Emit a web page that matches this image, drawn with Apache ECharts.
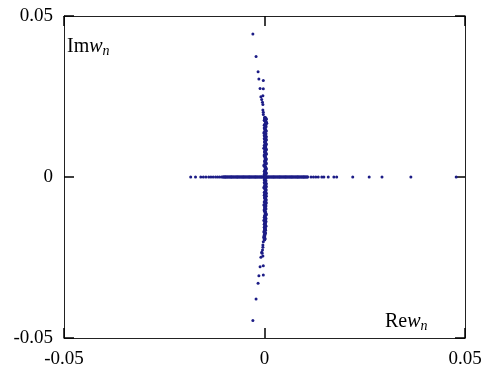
<!DOCTYPE html>
<html>
<head>
<meta charset="utf-8">
<script src="https://cdn.jsdelivr.net/npm/echarts@6/dist/echarts.min.js"></script>
<style>
html,body{margin:0;padding:0;background:#fff;}
#c{width:486px;height:369px;}
</style>
</head>
<body>
<div id="c"></div>
<script>
// Tick labels
var xTickValues = [-0.05, 0, 0.05];
var xTickLabels = ['-0.05', '0', '0.05'];
var yTickValues = [-0.05, 0, 0.05];
var yTickLabels = ['-0.05', '0', '0.05'];

// Real-axis points (Im w = 0): sparse left tail, dense core, sparse right tail
var realLeftTail = [-0.0184, -0.0172, -0.0159, -0.01525, -0.0146, -0.0139, -0.01335, -0.0128, -0.0122, -0.0117, -0.0112, -0.0107];
var realCore = [-0.0103, -0.0099, -0.0096, -0.0092, -0.0088, -0.0084, -0.0081, -0.0077, -0.0073, -0.0069, -0.0066, -0.0062,
  -0.0058, -0.0054, -0.0051, -0.0047, -0.0043, -0.0039, -0.0036, -0.0032, -0.0028, -0.0024, -0.0021, -0.0017, -0.0013,
  -0.0009, -0.0006, -0.0002, 0.0002, 0.0006, 0.0009, 0.0013, 0.0017, 0.0021, 0.0024, 0.0028, 0.0032, 0.0036, 0.0039,
  0.0043, 0.0047, 0.0051, 0.0054, 0.0058, 0.0062, 0.0066, 0.0069, 0.0073, 0.0077, 0.0081, 0.0084, 0.0088, 0.0092,
  0.0096, 0.0099, 0.0103, 0.0107];
var realRightTail = [0.0116, 0.0122, 0.0128, 0.0134, 0.0143, 0.0148, 0.0159, 0.0173, 0.0180, 0.0220, 0.0261, 0.0293, 0.0365, 0.0478];

// Near-imaginary-axis points: dense column (re, im)
var colRe = [0.0001, 0.0004, 0.0002, 0.0005, 0.0000, 0.0003, 0.0001, 0.0004, -0.0001, 0.0002, 0.0004, 0.0000,
  0.0003, 0.0001, 0.0004, 0.0002, -0.0001, 0.0003, 0.0001, 0.0004, 0.0000, 0.0002, 0.0003, 0.0001, 0.0004, -0.0001,
  0.0002, 0.0003, 0.0000, 0.0004, 0.0001, 0.0003, 0.0000, 0.0002, 0.0004, 0.0001, -0.0001, 0.0003, 0.0002, 0.0004,
  0.0000, 0.0001, 0.0003, 0.0002, 0.0004, -0.0001, 0.0001, 0.0003, 0.0000, 0.0002, 0.0004, 0.0001, 0.0003, -0.0001,
  0.0002, 0.0000, 0.0003, 0.0001, 0.0002, -0.0001, 0.0001, 0.0000, -0.0001, 0.0000];
var colIm = [0.0185, 0.0179, 0.0173, 0.0167, 0.0161, 0.0155, 0.0149, 0.0143, 0.0137, 0.0131, 0.0125, 0.0119,
  0.0113, 0.0107, 0.0101, 0.0095, 0.0089, 0.0083, 0.0077, 0.0071, 0.0065, 0.0059, 0.0053, 0.0047, 0.0041, 0.0035,
  0.0029, 0.0023, 0.0017, 0.0011, 0.0005, -0.0003, -0.0009, -0.0015, -0.0021, -0.0027, -0.0033, -0.0039, -0.0045,
  -0.0051, -0.0057, -0.0063, -0.0069, -0.0075, -0.0081, -0.0087, -0.0093, -0.0099, -0.0105, -0.0111, -0.0117,
  -0.0123, -0.0129, -0.0135, -0.0141, -0.0147, -0.0153, -0.0159, -0.0165, -0.0171, -0.0177, -0.0183, -0.0189, -0.0195];
// Second interleaved set of column points
var col2Re = [0.0003, 0.0000, 0.0004, 0.0002, 0.0003, 0.0000, 0.0002, 0.0001, 0.0003, 0.0000, 0.0002, 0.0004,
  0.0001, 0.0003, 0.0000, 0.0002, 0.0004, 0.0001, 0.0003, 0.0000, 0.0002, 0.0004, 0.0001, 0.0003, 0.0000, 0.0002,
  0.0004, 0.0001, 0.0003, 0.0000, 0.0002, 0.0001, 0.0003, 0.0000, 0.0002, 0.0004, 0.0001, 0.0003, 0.0000, 0.0002,
  0.0004, 0.0001, 0.0003, 0.0000, 0.0002, 0.0003, 0.0001, 0.0000, 0.0002, 0.0003, 0.0001, 0.0000, 0.0002, 0.0003,
  0.0001, 0.0002, 0.0000, 0.0001, 0.0000, 0.0002, 0.0000, -0.0001, 0.0001];
var col2Im = [0.0182, 0.0176, 0.0170, 0.0164, 0.0158, 0.0152, 0.0146, 0.0140, 0.0134, 0.0128, 0.0122, 0.0116,
  0.0110, 0.0104, 0.0098, 0.0092, 0.0086, 0.0080, 0.0074, 0.0068, 0.0062, 0.0056, 0.0050, 0.0044, 0.0038, 0.0032,
  0.0026, 0.0020, 0.0014, 0.0008, 0.0001, -0.0006, -0.0012, -0.0018, -0.0024, -0.0030, -0.0036, -0.0042, -0.0048,
  -0.0054, -0.0060, -0.0066, -0.0072, -0.0078, -0.0084, -0.0090, -0.0096, -0.0102, -0.0108, -0.0114, -0.0120,
  -0.0126, -0.0132, -0.0138, -0.0144, -0.0150, -0.0156, -0.0162, -0.0168, -0.0174, -0.0180, -0.0186, -0.0192];

// Sparse points off the column, upper half
var upRe = [-0.0029, -0.0021, -0.0016, -0.0014, -0.0003, -0.0011, -0.0003, -0.0009, -0.0004, -0.0007, -0.0005, -0.0004, -0.0004, -0.0003, -0.0003, 0.0000, 0.0002, 0.0004];
var upIm = [0.0444, 0.0374, 0.0327, 0.0304, 0.0300, 0.0275, 0.0274, 0.0249, 0.0252, 0.0241, 0.0232, 0.0225, 0.0208, 0.0201, 0.0194, 0.0183, 0.0175, 0.0167];
// Sparse points off the column, lower half
var loRe = [-0.0029, -0.0021, -0.0016, -0.0014, -0.0003, -0.0011, -0.0003, -0.0009, -0.0004, -0.0007, -0.0005, -0.0004, -0.0003, -0.0006, -0.0004];
var loIm = [-0.0446, -0.0379, -0.0330, -0.0307, -0.0304, -0.0279, -0.0276, -0.0249, -0.0245, -0.0234, -0.0227, -0.0211, -0.0201, -0.0237, -0.0218];

var sparse = [];
realLeftTail.forEach(function (v) { sparse.push([v, 0]); });
realRightTail.forEach(function (v) { sparse.push([v, 0]); });
upRe.forEach(function (v, i) { sparse.push([v, upIm[i]]); });
loRe.forEach(function (v, i) { sparse.push([v, loIm[i]]); });

var dense = [];
realCore.forEach(function (v) { dense.push([v, 0]); });
colRe.forEach(function (v, i) { dense.push([v, colIm[i]]); });
col2Re.forEach(function (v, i) { dense.push([v, col2Im[i]]); });

function lab(values, labels) {
  return function (v) {
    for (var i = 0; i < values.length; i++) {
      if (Math.abs(values[i] - v) < 1e-9) return labels[i];
    }
    return '';
  };
}

var FONT = 'Liberation Serif';
var axisBase = {
  type: 'value', min: -0.05, max: 0.05, interval: 0.05,
  axisLine: { show: true, onZero: false, lineStyle: { color: '#222', width: 1 } },
  axisTick: { show: true, inside: true, length: 10, lineStyle: { color: '#000', width: 1.5 } },
  splitLine: { show: false }
};
function ax(extra) { return Object.assign({}, JSON.parse(JSON.stringify(axisBase)), extra); }

var rich = {
  r: { fontFamily: FONT, fontSize: 20, fill: '#000' },
  i: { fontFamily: FONT, fontSize: 20, fontStyle: 'italic', fill: '#000' },
  s: { fontFamily: FONT, fontSize: 14, fontStyle: 'italic', fill: '#000', padding: [9, 0, 0, 0] }
};

var chart = echarts.init(document.getElementById('c'), null, { renderer: 'canvas' });
chart.setOption({
  animation: false,
  backgroundColor: '#fff',
  grid: { left: 64, right: 21, top: 16, bottom: 31, containLabel: false },
  xAxis: [
    ax({ position: 'bottom', axisLabel: { show: true, showMinLabel: true, showMaxLabel: true, margin: 12, fontFamily: FONT, fontSize: 19, color: '#000', formatter: lab(xTickValues, xTickLabels) } }),
    ax({ position: 'top', axisLabel: { show: false } })
  ],
  yAxis: [
    ax({ position: 'left', axisLabel: { show: true, showMinLabel: true, showMaxLabel: true, margin: 11, fontFamily: FONT, fontSize: 19, color: '#000', formatter: lab(yTickValues, yTickLabels) } }),
    ax({ position: 'right', axisLabel: { show: false } })
  ],
  series: [{
    type: 'scatter',
    data: sparse,
    symbol: 'circle',
    symbolSize: 3,
    itemStyle: { color: '#1c1c86', opacity: 1 },
    silent: true
  }, {
    type: 'scatter',
    data: dense,
    symbol: 'circle',
    symbolSize: 3.6,
    itemStyle: { color: '#1c1c86', opacity: 1 },
    silent: true
  }],
  graphic: [
    { type: 'text', left: 67, top: 37, style: { text: '{r|Im}{i|w}{s|n}', rich: rich } },
    { type: 'text', left: 385, top: 312, style: { text: '{r|Re}{i|w}{s|n}', rich: rich } }
  ]
});
</script>
</body>
</html>
